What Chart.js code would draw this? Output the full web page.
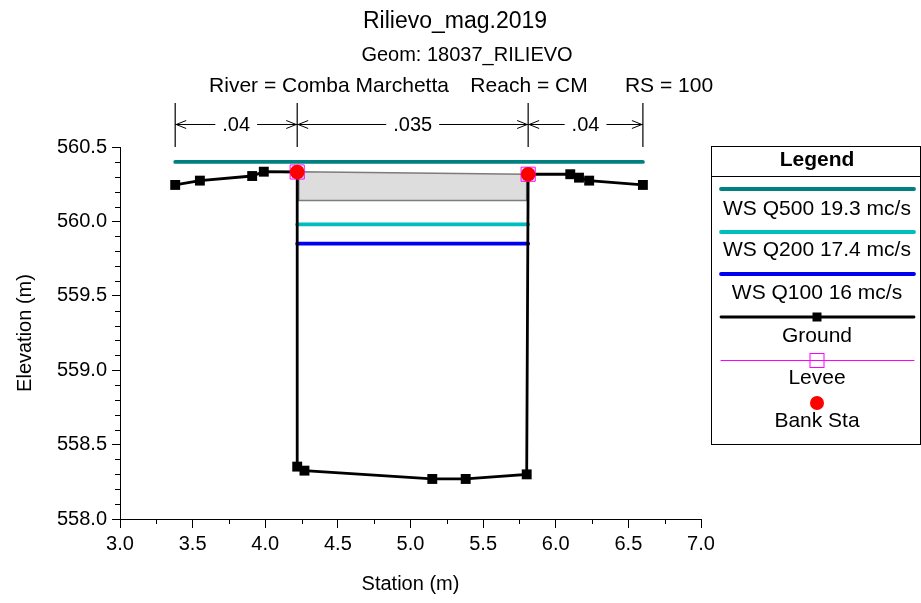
<!DOCTYPE html>
<html>
<head>
<meta charset="utf-8">
<title>Rilievo_mag.2019</title>
<script src="https://cdn.jsdelivr.net/npm/chart.js@4/dist/chart.umd.min.js"></script>
<style>
  html, body { margin: 0; padding: 0; background: #ffffff; }
  canvas { display: block; }
</style>
</head>
<body>
<canvas id="c" width="921" height="603"></canvas>
<script>
const FONT = "'Liberation Sans', Arial, Helvetica, sans-serif";

// Ground profile of the cross section (station m, elevation m)
const groundStation = [3.38, 3.55, 3.91, 3.99, 4.22, 4.22, 4.27, 5.15, 5.38, 5.80, 5.81, 6.10, 6.16, 6.23, 6.60];
const groundElev    = [560.245, 560.274, 560.305, 560.334, 560.332, 558.352, 558.325, 558.269, 558.269, 558.300, 560.317, 560.317, 560.294, 560.274, 560.245];

// Bank stations (also carrying the levee markers)
const bankStation = [4.22, 5.81];
const bankElev    = [560.332, 560.317];

// Deck / slab over the channel (closed outline)
const deckStation = [4.23, 5.80, 5.80, 4.23, 4.23];
const deckElev    = [560.334, 560.317, 560.14, 560.14, 560.334];

// Water surface profiles
const wsNames  = ['WS Q500 19.3 mc/s', 'WS Q200 17.4 mc/s', 'WS Q100 16 mc/s'];
const wsElev   = [560.40, 559.98, 559.85];
const wsFrom   = [3.38, 4.22, 4.22];
const wsTo     = [6.60, 5.81, 5.81];
const wsColors = ['#008080', '#00bebe', '#0000f0'];

// Manning's n regions
const nBreaks = [3.38, 4.22, 5.81, 6.60];
const nValues = ['.04', '.035', '.04'];

// Axis ticks
const xTickValues  = [3.0, 3.5, 4.0, 4.5, 5.0, 5.5, 6.0, 6.5, 7.0];
const xMinorValues = [3.25, 3.75, 4.25, 4.75, 5.25, 5.75, 6.25, 6.75];
const yTickValues  = [558.0, 558.5, 559.0, 559.5, 560.0, 560.5];
const yMinorValues = [558.1, 558.2, 558.3, 558.4, 558.6, 558.7, 558.8, 558.9,
                      559.1, 559.2, 559.3, 559.4, 559.6, 559.7, 559.8, 559.9,
                      560.1, 560.2, 560.3, 560.4];

// Header texts
const titleText = 'Rilievo_mag.2019';
const geomText = 'Geom: 18037_RILIEVO';
const locationTexts = ['River = Comba Marchetta', 'Reach = CM', 'RS = 100'];

const pts = (xs, ys) => xs.map((x, i) => ({ x: x, y: ys[i] }));

const datasets = [
  {
    label: 'Bank Sta', data: pts(bankStation, bankElev), showLine: false, order: 0,
    pointStyle: 'circle', pointRadius: 7.3, pointBackgroundColor: '#ff0000',
    pointBorderColor: '#ff0000', pointBorderWidth: 0
  },
  {
    label: 'Levee', data: pts(bankStation, bankElev), showLine: false, order: 1,
    pointStyle: 'rect', pointRadius: 10, pointBackgroundColor: 'rgba(0,0,0,0)',
    pointBorderColor: '#ff00ff', pointBorderWidth: 1
  },
  {
    label: 'Ground', data: pts(groundStation, groundElev), order: 2,
    borderColor: '#000000', borderWidth: 2.8,
    pointStyle: 'rect', pointRadius: 7, pointBackgroundColor: '#000000',
    pointBorderColor: '#000000', pointBorderWidth: 0
  }
];
wsNames.forEach((name, i) => {
  datasets.push({
    label: name, order: 3 + i,
    data: [{ x: wsFrom[i], y: wsElev[i] }, { x: wsTo[i], y: wsElev[i] }],
    borderColor: wsColors[i], borderWidth: 3.8, borderCapStyle: 'round', pointRadius: 0
  });
});
datasets.push({
  label: 'Deck', data: pts(deckStation, deckElev), order: 9,
  borderColor: '#7c7c7c', borderWidth: 1.6, backgroundColor: '#dddddd',
  fill: 'shape', pointRadius: 0
});

// Minor ticks, header, Manning's n bar and the legend panel
const decorations = {
  id: 'decorations',
  afterDraw(chart) {
    const ctx = chart.ctx;
    const xs = chart.scales.x, ys = chart.scales.y;
    const area = chart.chartArea;
    ctx.save();

    // minor ticks
    ctx.strokeStyle = '#000000';
    ctx.lineWidth = 1;
    ctx.beginPath();
    yMinorValues.forEach(v => {
      const py = Math.round(ys.getPixelForValue(v)) + 0.5;
      ctx.moveTo(area.left - 5, py); ctx.lineTo(area.left, py);
    });
    xMinorValues.forEach(v => {
      const px = Math.round(xs.getPixelForValue(v)) + 0.5;
      ctx.moveTo(px, area.bottom); ctx.lineTo(px, area.bottom + 5);
    });
    ctx.stroke();

    // header
    ctx.fillStyle = '#000000';
    ctx.textAlign = 'center';
    ctx.textBaseline = 'middle';
    ctx.font = '23px ' + FONT;
    ctx.fillText(titleText, 455, 22);
    ctx.font = '20px ' + FONT;
    ctx.fillText(geomText, 467, 55);
    ctx.font = '21px ' + FONT;
    const locX = [329, 529, 669];
    locationTexts.forEach((t, i) => ctx.fillText(t, locX[i], 86));

    // Manning's n
    const yTop = 103, yBot = 147, yArrow = 124.5;
    ctx.lineWidth = 1.2;
    const bx = nBreaks.map(v => xs.getPixelForValue(v));
    ctx.beginPath();
    bx.forEach(px => { ctx.moveTo(px, yTop); ctx.lineTo(px, yBot); });
    ctx.stroke();
    ctx.font = '20px ' + FONT;
    nValues.forEach((label, i) => {
      const x0 = bx[i], x1 = bx[i + 1];
      const cx = (x0 + x1) / 2;
      const w = ctx.measureText(label).width;
      ctx.fillText(label, cx, yArrow + 1);
      ctx.lineWidth = 1;
      ctx.beginPath();
      ctx.moveTo(x0, yArrow); ctx.lineTo(cx - w / 2 - 7, yArrow);
      ctx.moveTo(cx + w / 2 + 7, yArrow); ctx.lineTo(x1, yArrow);
      // arrow heads pointing to the region limits
      ctx.moveTo(x0 + 11, yArrow - 4); ctx.lineTo(x0 + 1, yArrow); ctx.lineTo(x0 + 11, yArrow + 4);
      ctx.moveTo(x1 - 11, yArrow - 4); ctx.lineTo(x1 - 1, yArrow); ctx.lineTo(x1 - 11, yArrow + 4);
      ctx.stroke();
    });

    // legend panel
    const L = 711.5, R = 920.5, T = 146.5, B = 444.5, C = 817;
    ctx.fillStyle = '#ffffff';
    ctx.fillRect(L, T, R - L, B - T);
    ctx.strokeStyle = '#000000';
    ctx.lineWidth = 1;
    ctx.strokeRect(L, T, R - L, B - T);
    ctx.beginPath(); ctx.moveTo(L, 176.5); ctx.lineTo(R, 176.5); ctx.stroke();
    ctx.fillStyle = '#000000';
    ctx.font = 'bold 21px ' + FONT;
    ctx.fillText('Legend', C, 160);

    const lx0 = 721, lx1 = 914;
    const byLabel = {};
    chart.data.datasets.forEach(d => { byLabel[d.label] = d; });
    const entries = [
      { label: wsNames[0], lineY: 189, textY: 209 },
      { label: wsNames[1], lineY: 232, textY: 250 },
      { label: wsNames[2], lineY: 274, textY: 293 },
      { label: 'Ground', lineY: 317, textY: 336 },
      { label: 'Levee', lineY: 360, textY: 378 },
      { label: 'Bank Sta', lineY: 403, textY: 421 }
    ];
    ctx.font = '21px ' + FONT;
    entries.forEach(e => {
      const d = byLabel[e.label];
      ctx.lineCap = 'round';
      if (d.label === 'Levee') {
        ctx.strokeStyle = d.pointBorderColor; ctx.lineWidth = 1;
        ctx.beginPath(); ctx.moveTo(lx0, e.lineY + 0.5); ctx.lineTo(lx1, e.lineY + 0.5); ctx.stroke();
        ctx.strokeRect(C - 7, e.lineY - 6.5, 14, 14);
      } else if (d.label === 'Bank Sta') {
        ctx.fillStyle = d.pointBackgroundColor;
        ctx.beginPath(); ctx.arc(C, e.lineY, 7, 0, Math.PI * 2); ctx.fill();
      } else {
        ctx.strokeStyle = d.borderColor; ctx.lineWidth = d.borderWidth;
        ctx.beginPath(); ctx.moveTo(lx0, e.lineY); ctx.lineTo(lx1, e.lineY); ctx.stroke();
        if (d.label === 'Ground') {
          ctx.fillStyle = d.pointBackgroundColor;
          ctx.fillRect(C - 4.5, e.lineY - 4.5, 9, 9);
        }
      }
      ctx.fillStyle = '#000000';
      ctx.fillText(e.label, C, e.textY);
    });
    ctx.restore();
  }
};

new Chart(document.getElementById('c'), {
  type: 'line',
  data: { datasets: datasets },
  plugins: [decorations],
  options: {
    responsive: false,
    devicePixelRatio: 1,
    animation: false,
    events: [],
    layout: { padding: { left: 0, top: 147, right: 220, bottom: 0 } },
    plugins: { legend: { display: false }, title: { display: false }, tooltip: { enabled: false } },
    scales: {
      x: {
        type: 'linear', min: 3.0, max: 7.0,
        afterFit: s => { s.height = 84; },
        afterBuildTicks: s => { s.ticks = xTickValues.map(v => ({ value: v })); },
        ticks: { callback: v => v.toFixed(1), color: '#000000', font: { family: FONT, size: 20 }, padding: 4, maxRotation: 0, autoSkip: false },
        grid: { display: true, drawOnChartArea: false, drawTicks: true, tickLength: 9, tickColor: '#000000', tickWidth: 1 },
        border: { display: true, color: '#000000', width: 1 },
        title: { display: true, text: 'Station (m)', color: '#000000', font: { family: FONT, size: 20 }, padding: { top: 0, bottom: 7 } }
      },
      y: {
        type: 'linear', min: 558.0, max: 560.5,
        afterFit: s => { s.width = 120; },
        afterBuildTicks: s => { s.ticks = yTickValues.map(v => ({ value: v })); },
        ticks: { callback: v => v.toFixed(1), color: '#000000', font: { family: FONT, size: 20 }, padding: 5, autoSkip: false },
        grid: { display: true, drawOnChartArea: false, drawTicks: true, tickLength: 8, tickColor: '#000000', tickWidth: 1 },
        border: { display: true, color: '#000000', width: 1 },
        title: { display: true, text: 'Elevation (m)', color: '#000000', font: { family: FONT, size: 20 }, padding: { top: 13, bottom: 0 } }
      }
    }
  }
});
</script>
</body>
</html>
